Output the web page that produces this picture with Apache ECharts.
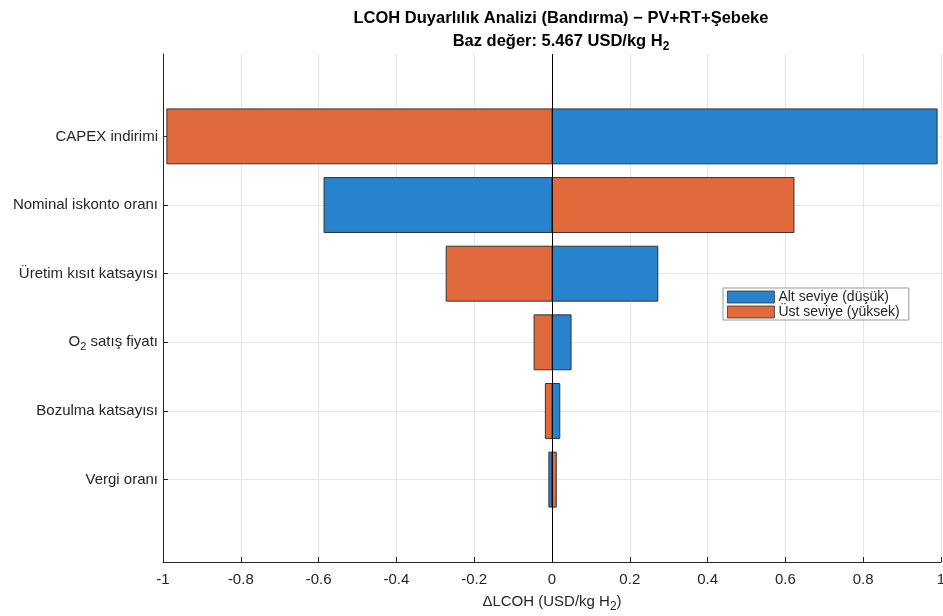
<!DOCTYPE html>
<html><head><meta charset="utf-8">
<script src="https://cdn.jsdelivr.net/npm/echarts@6/dist/echarts.min.js"></script>
<style>html,body{margin:0;padding:0;background:#fff}#c{width:943px;height:616px}</style>
</head><body><div id="c"></div>
<script>
const categories = ['CAPEX indirimi', 'Nominal iskonto oranı', 'Üretim kısıt katsayısı', 'O2 satış fiyatı', 'Bozulma katsayısı', 'Vergi oranı'];
const positions = [1, 2, 3, 4, 5, 6];
const lowLevel = [0.99, -0.586, 0.272, 0.049, 0.02, -0.008];   // Alt seviye (düşük)
const highLevel = [-0.99, 0.622, -0.272, -0.046, -0.017, 0.011]; // Üst seviye (yüksek)

const FONT = '"Liberation Sans", Arial, sans-serif';
const TXT = '#262626';
const BLUE = '#2783CB', ORANGE = '#E06A3B';

function makeRender(color) {
  return function (params, api) {
    const v = api.value(0), p = api.value(1);
    const a = api.coord([0, p]), b = api.coord([v, p]);
    const h = api.size([0, 0.8])[1];
    return {
      type: 'rect',
      shape: { x: Math.min(a[0], b[0]), y: a[1] - h / 2, width: Math.abs(b[0] - a[0]), height: h },
      style: { fill: color, stroke: '#333333', lineWidth: 1 }
    };
  };
}

const chart = echarts.init(document.getElementById('c'), null, { renderer: 'canvas' });
chart.setOption({
  animation: false,
  backgroundColor: '#fff',
  title: {
    text: 'LCOH Duyarlılık Analizi (Bandırma) − PV+RT+Şebeke\nBaz değer: 5.467 USD/kg H{sub|2}',
    left: 556, top: 2, textAlign: 'center',
    textStyle: {
      fontFamily: FONT, fontSize: 16.5, fontWeight: 'bold', color: '#000', lineHeight: 23,
      rich: { sub: { fontFamily: FONT, fontSize: 12, fontWeight: 'bold', color: '#000', padding: [10, 0, 0, 0] } }
    }
  },
  legend: {
    orient: 'vertical', left: 723, top: 288,
    backgroundColor: '#fff', borderColor: '#999', borderWidth: 1,
    padding: [2, 9, 1, 4], itemGap: 1,
    itemWidth: 47, itemHeight: 12, icon: 'rect',
    itemStyle: { borderWidth: 0.8, borderColor: '#333' },
    textStyle: { fontFamily: FONT, fontSize: 14, lineHeight: 14, color: TXT, padding: [0, 0, 0, -1] },
    data: ['Alt seviye (düşük)', 'Üst seviye (yüksek)']
  },
  grid: { left: 163, right: 2, top: 54, bottom: 54, outerBoundsMode: 'none', containLabel: false },
  xAxis: {
    type: 'value', min: -1, max: 1, interval: 0.2,
    name: 'ΔLCOH (USD/kg H{sub|2})', nameLocation: 'middle', nameGap: 28,
    nameTextStyle: {
      fontFamily: FONT, fontSize: 15, color: TXT,
      rich: { sub: { fontFamily: FONT, fontSize: 12, color: TXT, padding: [11, 0, 0, 0] } }
    },
    axisLine: { show: true, onZero: false, lineStyle: { color: '#262626', width: 1 } },
    axisTick: { show: true, inside: true, length: 5, lineStyle: { color: '#262626' } },
    axisLabel: {
      fontFamily: FONT, fontSize: 15, color: TXT, margin: 10,
      formatter: v => String(Math.round(v * 10) / 10)
    },
    splitLine: { show: true, lineStyle: { color: '#e6e6e6', width: 1 } }
  },
  yAxis: {
    type: 'value', min: -0.2, max: 7.2, inverse: true,
    axisLine: { show: true, onZero: false, lineStyle: { color: '#262626', width: 1 } },
    axisTick: { show: true, inside: true, length: 5, customValues: positions, lineStyle: { color: '#262626' } },
    axisLabel: {
      customValues: positions, fontFamily: FONT, fontSize: 15, color: TXT, margin: 5,
      formatter: v => {
        const name = categories[Math.round(v) - 1] || '';
        return name === 'O2 satış fiyatı' ? 'O{sub|2} satış fiyatı' : name;
      },
      rich: { sub: { fontFamily: FONT, fontSize: 11, color: TXT, padding: [10, 0, 0, 0] } }
    },
    splitLine: { show: true, lineStyle: { color: '#e6e6e6', width: 1 } }
  },
  series: [
    {
      name: 'Alt seviye (düşük)', type: 'custom', renderItem: makeRender(BLUE),
      itemStyle: { color: BLUE, borderColor: '#333333', borderWidth: 1 },
      encode: { x: 0, y: 1 },
      data: lowLevel.map((v, i) => [v, positions[i]]),
      z: 2
    },
    {
      name: 'Üst seviye (yüksek)', type: 'custom', renderItem: makeRender(ORANGE),
      itemStyle: { color: ORANGE, borderColor: '#333333', borderWidth: 1 },
      encode: { x: 0, y: 1 },
      data: highLevel.map((v, i) => [v, positions[i]]),
      z: 3,
      markLine: {
        silent: true, symbol: 'none', label: { show: false },
        lineStyle: { color: '#000', width: 1, type: 'solid' },
        data: [{ xAxis: 0 }]
      }
    }
  ]
});
</script></body></html>
